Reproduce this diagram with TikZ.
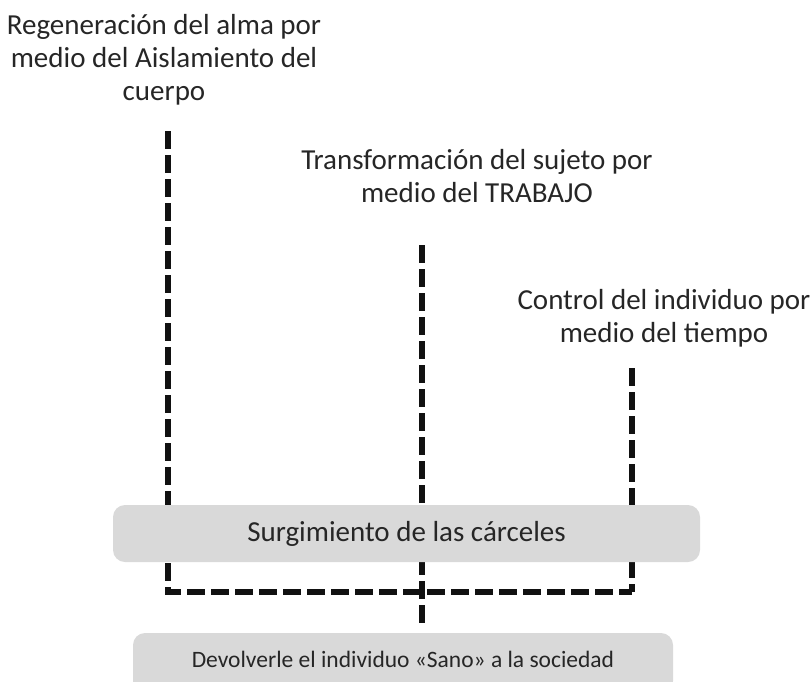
\documentclass[tikz,border=0pt]{standalone}
\usepackage{fontspec}
\setmainfont{Carlito}
\definecolor{txt}{HTML}{262626}
\definecolor{boxfill}{HTML}{D9D9D9}
\definecolor{ln}{HTML}{111111}
\tikzset{
  dashline/.style={draw=ln, line width=5.5pt, dash pattern=on 18pt off 6pt},
  toptext/.style={align=center, text=txt, inner sep=0pt, font=\fontsize{29}{33}\selectfont},
  graybox/.style={fill=boxfill, draw=none, rounded corners=12pt, inner sep=0pt, text=txt},
}
\begin{document}
\begin{tikzpicture}[x=1pt,y=-1pt]
\useasboundingbox (0,0) rectangle (810,681);
\clip (0,0) rectangle (810,681);
% text nodes
\node[toptext] (reg) at (164,60) {Regeneración del alma por\\medio del Aislamiento del\\cuerpo};
\node[toptext] (trans) at (477,176) {Transformación del sujeto por\\medio del TRABAJO};
\node[toptext] (ctrl) at (664,318) {Control del individuo por\\medio del tiempo};
% line end points
\coordinate (lt) at (168,131);
\coordinate (lc) at (168,592);
\coordinate (rc) at (632,592);
\coordinate (rt) at (632,368);
\coordinate (mt) at (422,245);
\coordinate (mb) at (422,627);
% dashed connectors (behind the boxes)
\draw[dashline] (lt) -- (lc) -- (rc);
\draw[dashline] (rt) -- (rc);
\draw[dashline] (mt) -- (mb);
% boxes
\node[graybox, minimum width=587pt, minimum height=57pt, font=\fontsize{29}{33}\selectfont] (carceles) at (406.5,533.5) {Surgimiento de las cárceles};
\node[graybox, minimum width=540pt, minimum height=60pt, text height=16.5pt, text depth=8.5pt, font=\fontsize{23.5}{27}\selectfont] (sano) at (403,663) {Devolverle el individuo «Sano» a la sociedad};
\end{tikzpicture}
\end{document}
